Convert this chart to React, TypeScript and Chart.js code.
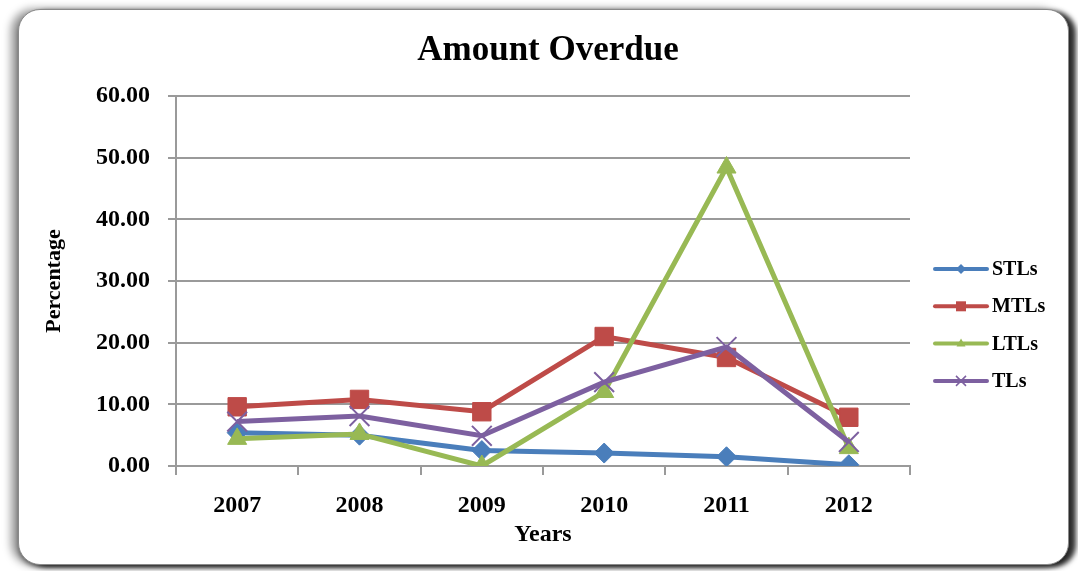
import React, { useEffect, useRef } from 'react';
import { Chart, registerables } from 'chart.js';

Chart.register(...registerables);

const categories = ['2007', '2008', '2009', '2010', '2011', '2012'];
const stls = [5.4, 5.0, 2.5, 2.1, 1.5, 0.2];
const mtls = [9.6, 10.8, 8.8, 21.0, 17.6, 7.9];
const ltls = [4.4, 5.2, 0.0, 12.0, 48.4, 2.9];
const tls = [7.2, 8.1, 4.9, 13.6, 19.3, 3.9];
const seriesNames = ['STLs', 'MTLs', 'LTLs', 'TLs'];
const chartTitle = 'Amount Overdue';
const yMin = 0;
const yMax = 60;
const yStep = 10;

const FONT = "'Liberation Serif', 'Times New Roman', serif";
const GRID = '#9a9a9a';

const colors = ['#4A7EBB', '#BE4B48', '#98B954', '#7D60A0'];
const pointStyles = ['rectRot', 'rect', 'triangle', 'crossRot'];
const pointRadii = [10, 13, 11, 14];

function drawMarker(ctx: CanvasRenderingContext2D, style: string, x: number, y: number, r: number, color: string) {
  ctx.save();
  ctx.fillStyle = color;
  ctx.strokeStyle = color;
  ctx.beginPath();
  if (style === 'rectRot') {
    ctx.moveTo(x, y - r);
    ctx.lineTo(x + r, y);
    ctx.lineTo(x, y + r);
    ctx.lineTo(x - r, y);
    ctx.closePath();
    ctx.fill();
  } else if (style === 'rect') {
    ctx.rect(x - r, y - r, 2 * r, 2 * r);
    ctx.fill();
  } else if (style === 'triangle') {
    ctx.moveTo(x, y - r);
    ctx.lineTo(x + r * 0.9, y + r * 0.6);
    ctx.lineTo(x - r * 0.9, y + r * 0.6);
    ctx.closePath();
    ctx.fill();
  } else {
    ctx.lineWidth = 1.5;
    ctx.moveTo(x - r, y - r);
    ctx.lineTo(x + r, y + r);
    ctx.moveTo(x + r, y - r);
    ctx.lineTo(x - r, y + r);
    ctx.stroke();
  }
  ctx.restore();
}

const sideLegendAndTitle = {
  id: 'sideLegendAndTitle',
  afterDraw(chart: any) {
    const ctx: CanvasRenderingContext2D = chart.ctx;
    // title, centred on the whole chart frame
    ctx.save();
    ctx.fillStyle = '#000';
    ctx.font = `bold 35px ${FONT}`;
    ctx.textAlign = 'center';
    ctx.textBaseline = 'middle';
    ctx.fillText(chartTitle, 548, 51);
    ctx.restore();

    const x0 = 935;
    const x1 = 987;
    chart.data.datasets.forEach((ds: any, i: number) => {
      const y = 269 + i * 37.3;
      ctx.save();
      ctx.strokeStyle = ds.borderColor;
      ctx.lineWidth = 4;
      ctx.lineCap = 'round';
      ctx.beginPath();
      ctx.moveTo(x0, y);
      ctx.lineTo(x1, y);
      ctx.stroke();
      ctx.restore();
      drawMarker(ctx, ds.pointStyle, (x0 + x1) / 2, y, 5, ds.borderColor);
      ctx.save();
      ctx.fillStyle = '#000';
      ctx.font = `bold 20px ${FONT}`;
      ctx.textAlign = 'left';
      ctx.textBaseline = 'middle';
      ctx.fillText(ds.label, 992, y + 1);
      ctx.restore();
    });
  },
};

const seriesValues = [stls, mtls, ltls, tls];

export default function App() {
  const ref = useRef<HTMLCanvasElement | null>(null);

  useEffect(() => {
    if (!ref.current) return;
    const datasets = seriesValues.map((vals, i) => ({
      label: seriesNames[i],
      data: vals,
      borderColor: colors[i],
      backgroundColor: colors[i],
      pointBackgroundColor: colors[i],
      pointBorderColor: colors[i],
      pointStyle: pointStyles[i],
      pointRadius: pointRadii[i],
      pointHoverRadius: pointRadii[i],
      pointBorderWidth: i === 3 ? 2 : 1,
      borderWidth: 5,
      tension: 0,
      order: 3 - i,
    }));
    const chart = new Chart(ref.current, {
      type: 'line',
      data: { labels: categories, datasets },
      plugins: [sideLegendAndTitle],
      options: {
        animation: false,
        responsive: false,
        maintainAspectRatio: false,
        layout: { padding: { left: 0, right: 168, top: 96, bottom: 0 } },
        plugins: {
          legend: { display: false },
          tooltip: { enabled: false },
          title: { display: false },
        },
        scales: {
          x: {
            type: 'category',
            offset: true,
            afterFit: (s: any) => { s.height = 105; },
            grid: {
              offset: true,
              drawOnChartArea: false,
              drawTicks: true,
              tickLength: 9,
              color: GRID,
              lineWidth: 2,
            },
            border: { display: true, color: GRID, width: 2 },
            ticks: {
              color: '#000',
              font: { family: FONT, size: 24, weight: 'bold' },
              padding: 16,
              maxRotation: 0,
            },
            title: {
              display: true,
              text: 'Years',
              color: '#000',
              font: { family: FONT, size: 24, weight: 'bold' },
              padding: { top: 0, bottom: 22 },
            },
          },
          y: {
            min: yMin,
            max: yMax,
            afterFit: (s: any) => { s.width = 176; },
            grid: {
              drawOnChartArea: true,
              drawTicks: true,
              tickLength: 8,
              color: GRID,
              lineWidth: 2,
            },
            border: { display: true, color: GRID, width: 2 },
            ticks: {
              stepSize: yStep,
              color: '#000',
              font: { family: FONT, size: 24, weight: 'bold' },
              padding: 18,
              callback: (v: any) => Number(v).toFixed(2),
            },
            title: {
              display: true,
              text: 'Percentage',
              color: '#000',
              font: { family: FONT, size: 22, weight: 'bold' },
              padding: { top: 41, bottom: 0 },
            },
          },
        },
      },
    } as any);
    return () => chart.destroy();
  }, []);

  return (
    <div style={{ position: 'fixed', left: 0, top: 0, width: 1078, height: 571, background: '#fff', overflow: 'hidden' }}>
      <div
        style={{
          position: 'absolute',
          left: 18,
          top: 9,
          width: 1049,
          height: 554,
          borderRadius: 22,
          background: '#fff',
          border: '1px solid #8a8a8a',
          boxShadow: '7px 2px 5px rgba(0,0,0,0.8), -7px 0px 8px rgba(0,0,0,0.4), 0px 3px 4px rgba(0,0,0,0.35)',
        }}
      />
      <canvas ref={ref} width={1078} height={571} style={{ position: 'absolute', left: 0, top: 0, width: 1078, height: 571 }} />
    </div>
  );
}
